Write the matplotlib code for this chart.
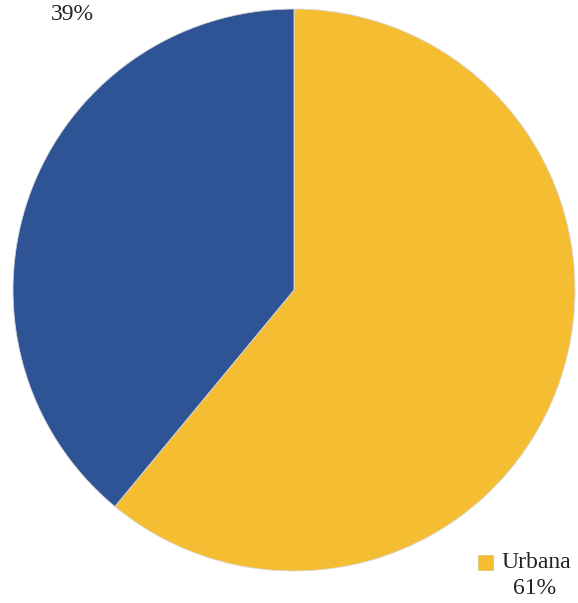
import matplotlib

matplotlib.use("Agg")
import matplotlib.pyplot as plt

labels = ["Urbana", "Rural"]
values = [61, 39]
colors = ["#F5BE32", "#2F5496"]

W, H = 578, 603
fig = plt.figure(figsize=(W / 100, H / 100), dpi=100)
plt.rcParams["font.family"] = ["Liberation Serif", "DejaVu Serif"]

# pie centred near (294, 290) px with radius ~280 px
cx, cy, r = 294, 290, 281
ax = fig.add_axes([(cx - r) / W, 1 - (cy + r) / H, 2 * r / W, 2 * r / H])
ax.pie(values, colors=colors, startangle=90, counterclock=False,
       wedgeprops=dict(edgecolor="#d8d8d8", linewidth=0.6), radius=1.0)
ax.set_xlim(-1, 1)
ax.set_ylim(-1, 1)
ax.set_aspect("auto")
ax.axis("off")

# labels
fig.text(72 / W, 1 - 15 / H, f"{values[1]}%", ha="center", va="center", fontsize=17, color="#222222")
fig.patches.append(plt.Rectangle((478 / W, 1 - 570 / H), 15 / W, 15 / H, transform=fig.transFigure,
                                 facecolor=colors[0], edgecolor="#e0c070", linewidth=0.5))
fig.text(501 / W, 1 - 563 / H, labels[0], ha="left", va="center", fontsize=17, color="#222222")
fig.text(535 / W, 1 - 588 / H, f"{values[0]}%", ha="center", va="center", fontsize=17, color="#222222")

fig.savefig("out.png", dpi=100, facecolor="white")
